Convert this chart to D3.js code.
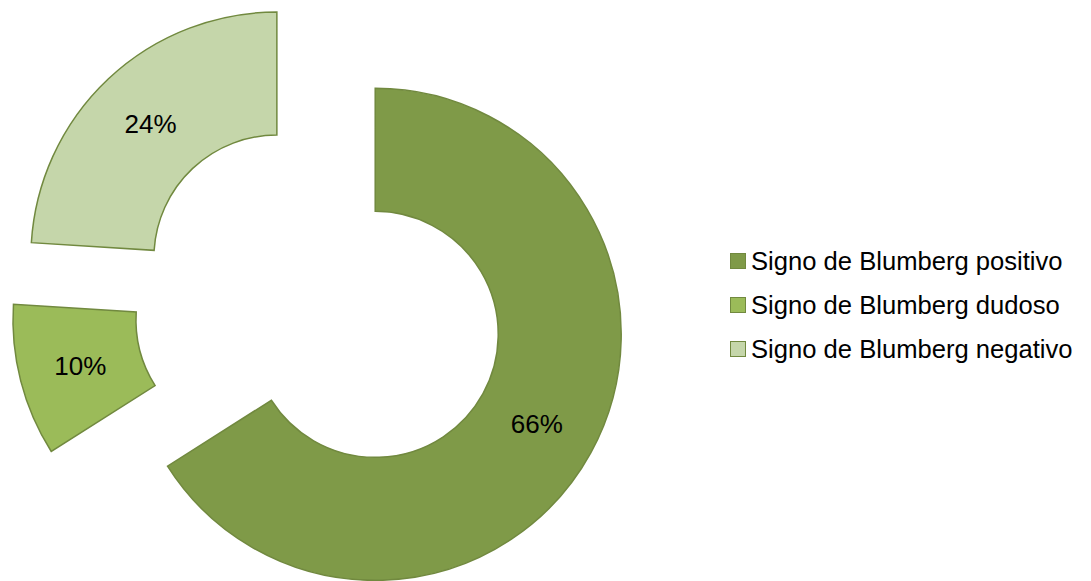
<!DOCTYPE html>
<html>
<head>
<meta charset="utf-8">
<script src="https://cdn.jsdelivr.net/npm/d3@7/dist/d3.min.js"></script>
<style>
  html, body { margin: 0; padding: 0; background: #ffffff; }
  svg { display: block; font-family: "Liberation Sans", Arial, sans-serif; }
</style>
</head>
<body>
<svg id="chart" width="1091" height="581"></svg>
<script>
// Blumberg sign results (share of patients, %)
const categories = ["Signo de Blumberg positivo", "Signo de Blumberg dudoso", "Signo de Blumberg negativo"];
const values = [66, 10, 24];
const colors = ["#7f9a48", "#9bbb59", "#c5d6aa"];

const width = 1091, height = 581;
const center = { x: 320, y: 304 };
const outerR = 246, innerR = 123, explode = 63;

const svg = d3.select("#chart");

const pie = d3.pie().sort(null).value(d => d.value).startAngle(0).endAngle(2 * Math.PI);
const arc = d3.arc().innerRadius(innerR).outerRadius(outerR);

const data = categories.map((c, i) => ({ name: c, value: values[i], color: colors[i] }));
const arcs = pie(data);

const g = svg.append("g").attr("transform", `translate(${center.x},${center.y})`);

// each ring segment is pulled out along its mid-angle
const slice = g.selectAll("g.slice")
  .data(arcs)
  .join("g")
  .attr("class", "slice")
  .attr("transform", d => {
    const a = (d.startAngle + d.endAngle) / 2;
    return `translate(${explode * Math.sin(a)},${-explode * Math.cos(a)})`;
  });

slice.append("path")
  .attr("d", arc)
  .attr("fill", d => d.data.color)
  .attr("stroke", "#71893f")
  .attr("stroke-width", 1.5)
  .attr("stroke-linejoin", "miter");

slice.append("text")
  .attr("transform", d => `translate(${arc.centroid(d)})`)
  .attr("text-anchor", "middle")
  .attr("dy", "0.36em")
  .attr("font-size", 26)
  .attr("fill", "#000")
  .text(d => d.data.value + "%");

// legend
const legend = svg.append("g").attr("transform", "translate(730,261)");
const item = legend.selectAll("g")
  .data(data)
  .join("g")
  .attr("transform", (d, i) => `translate(0,${i * 44})`);

item.append("rect")
  .attr("x", 0.5).attr("y", -7.5)
  .attr("width", 15).attr("height", 15)
  .attr("fill", d => d.color)
  .attr("stroke", "#71893f")
  .attr("stroke-width", 1);

item.append("text")
  .attr("x", 21)
  .attr("dy", "0.36em")
  .attr("font-size", 25.6)
  .attr("fill", "#000")
  .text(d => d.name);
</script>
</body>
</html>
